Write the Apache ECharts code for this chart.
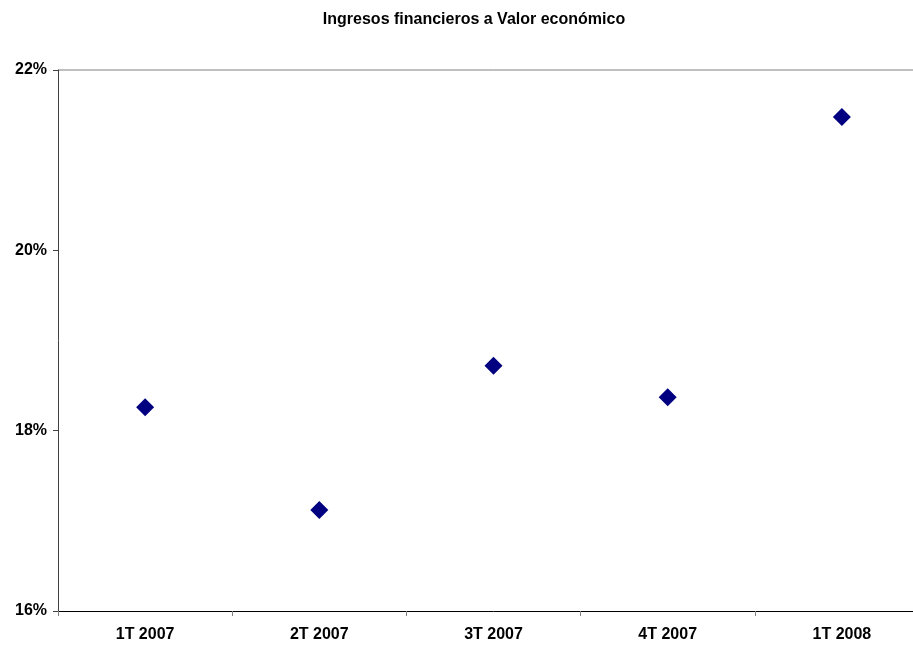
<!DOCTYPE html>
<html><head><meta charset="utf-8">
<script src="https://cdn.jsdelivr.net/npm/echarts@6/dist/echarts.min.js"></script>
<style>html,body{margin:0;padding:0;background:#fff;overflow:hidden}#c{width:929px;height:647px}</style>
</head><body><div id="c"></div>
<script>
const categories = ['1T 2007', '2T 2007', '3T 2007', '4T 2007', '1T 2008'];
const values = [0.1826, 0.1712, 0.1872, 0.1837, 0.2148];
const yTicks = [0.16, 0.18, 0.20, 0.22];

const FONT = 'Liberation Sans, Arial, sans-serif';
const chart = echarts.init(document.getElementById('c'));
chart.setOption({
  animation: false,
  title: {
    text: 'Ingresos financieros a Valor económico',
    left: 469, top: 7, textAlign: 'center',
    textStyle: {fontFamily: FONT, fontSize: 16, fontWeight: 'bold', color: '#000'}
  },
  grid: {left: 58, right: 0, top: 70, bottom: 36, containLabel: false},
  xAxis: {
    type: 'category', data: categories, boundaryGap: true,
    axisLine: {lineStyle: {color: '#000', width: 1}},
    axisTick: {show: true, length: 5, lineStyle: {color: '#808080'}},
    axisLabel: {margin: 16, fontFamily: FONT, fontSize: 16, fontWeight: 'bold', color: '#000'},
    splitLine: {show: false}
  },
  yAxis: {
    type: 'value', min: 0.16, max: 0.22, interval: 0.02,
    axisLine: {show: true, lineStyle: {color: '#404040', width: 1}},
    axisTick: {show: true, length: 5, lineStyle: {color: '#404040'}},
    axisLabel: {margin: 11, fontFamily: FONT, fontSize: 16, fontWeight: 'bold', color: '#000',
      formatter: v => yTicks.some(t => Math.abs(t - v) < 1e-9) ? Math.round(v * 100) + '%' : ''},
    splitLine: {show: false}
  },
  series: [{
    type: 'scatter', data: values, symbol: 'diamond', symbolSize: 18,
    itemStyle: {color: '#000080', opacity: 1}
  }]
});
const yTop = chart.convertToPixel({yAxisIndex: 0}, 0.22);
chart.setOption({graphic: [{type: 'line', shape: {x1: 58, y1: yTop, x2: 929, y2: yTop}, style: {stroke: '#808080', lineWidth: 1}, silent: true}]});
</script></body></html>
